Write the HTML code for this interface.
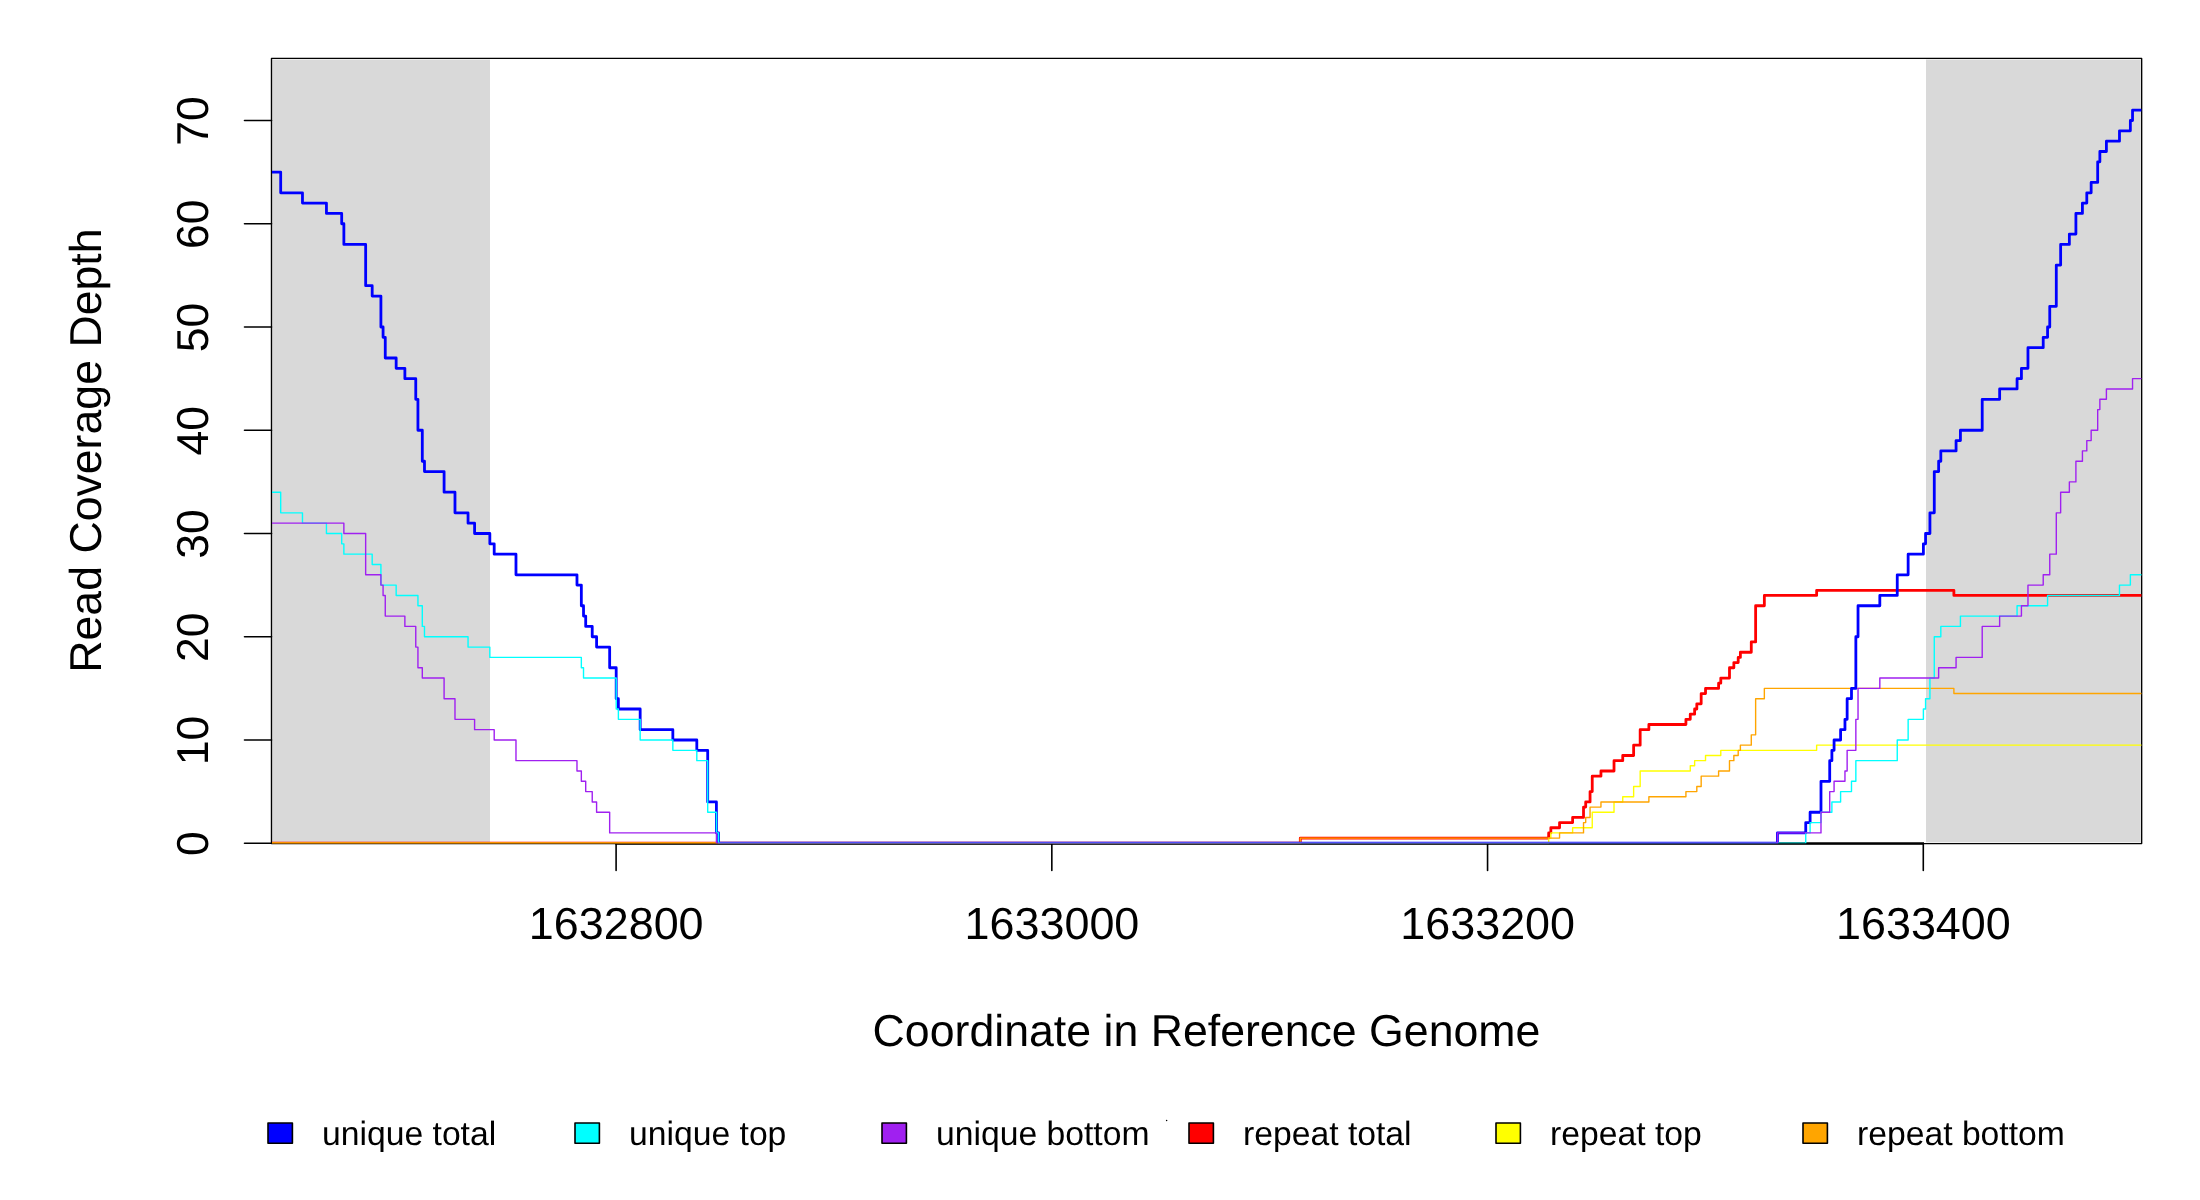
<!DOCTYPE html>
<html><head><meta charset="utf-8"><title>Read Coverage Depth</title>
<style>
html,body{margin:0;padding:0;background:#fff;}
body{width:2200px;height:1200px;overflow:hidden;font-family:"Liberation Sans",sans-serif;}
svg{display:block;will-change:transform;}
svg text{font-family:"Liberation Sans",sans-serif;fill:#000;text-rendering:geometricPrecision;}
</style></head><body>
<svg width="2200" height="1200" viewBox="0 0 2200 1200">
<rect x="0" y="0" width="2200" height="1200" fill="#ffffff"/>
<defs><clipPath id="plotclip"><rect x="272.00" y="58.40" width="1869.40" height="784.85"/></clipPath></defs>

<rect x="272.50" y="59.50" width="217.50" height="782.90" fill="#d9d9d9"/>
<rect x="1926.00" y="59.50" width="214.50" height="782.90" fill="#d9d9d9"/>
<rect x="271.50" y="58.40" width="1870.15" height="785.20" fill="none" stroke="#000" stroke-width="1.4" stroke-linejoin="round"/>
<line x1="244.5" x2="271.50" y1="843.30" y2="843.30" stroke="#000" stroke-width="1.6" stroke-linecap="round"/>
<text font-size="44.67" text-anchor="middle" transform="translate(208 843.65) rotate(-90)">0</text>
<line x1="244.5" x2="271.50" y1="740.05" y2="740.05" stroke="#000" stroke-width="1.6" stroke-linecap="round"/>
<text font-size="44.67" text-anchor="middle" transform="translate(208 740.40) rotate(-90)">10</text>
<line x1="244.5" x2="271.50" y1="636.80" y2="636.80" stroke="#000" stroke-width="1.6" stroke-linecap="round"/>
<text font-size="44.67" text-anchor="middle" transform="translate(208 637.15) rotate(-90)">20</text>
<line x1="244.5" x2="271.50" y1="533.55" y2="533.55" stroke="#000" stroke-width="1.6" stroke-linecap="round"/>
<text font-size="44.67" text-anchor="middle" transform="translate(208 533.90) rotate(-90)">30</text>
<line x1="244.5" x2="271.50" y1="430.30" y2="430.30" stroke="#000" stroke-width="1.6" stroke-linecap="round"/>
<text font-size="44.67" text-anchor="middle" transform="translate(208 430.65) rotate(-90)">40</text>
<line x1="244.5" x2="271.50" y1="327.05" y2="327.05" stroke="#000" stroke-width="1.6" stroke-linecap="round"/>
<text font-size="44.67" text-anchor="middle" transform="translate(208 327.40) rotate(-90)">50</text>
<line x1="244.5" x2="271.50" y1="223.80" y2="223.80" stroke="#000" stroke-width="1.6" stroke-linecap="round"/>
<text font-size="44.67" text-anchor="middle" transform="translate(208 224.15) rotate(-90)">60</text>
<line x1="244.5" x2="271.50" y1="120.55" y2="120.55" stroke="#000" stroke-width="1.6" stroke-linecap="round"/>
<text font-size="44.67" text-anchor="middle" transform="translate(208 120.90) rotate(-90)">70</text>
<line x1="616.10" x2="616.10" y1="843.60" y2="870.5" stroke="#000" stroke-width="1.6" stroke-linecap="round"/>
<text font-size="44.9" text-anchor="middle" x="616.20" y="939">1632800</text>
<line x1="1051.83" x2="1051.83" y1="843.60" y2="870.5" stroke="#000" stroke-width="1.6" stroke-linecap="round"/>
<text font-size="44.9" text-anchor="middle" x="1051.93" y="939">1633000</text>
<line x1="1487.56" x2="1487.56" y1="843.60" y2="870.5" stroke="#000" stroke-width="1.6" stroke-linecap="round"/>
<text font-size="44.9" text-anchor="middle" x="1487.66" y="939">1633200</text>
<line x1="1923.29" x2="1923.29" y1="843.60" y2="870.5" stroke="#000" stroke-width="1.6" stroke-linecap="round"/>
<text font-size="44.9" text-anchor="middle" x="1923.39" y="939">1633400</text>
<line x1="615.40" x2="1923.99" y1="843.4" y2="843.4" stroke="#000" stroke-width="2.5" stroke-linecap="butt"/>
<g clip-path="url(#plotclip)" fill="none" stroke-linejoin="round" stroke-linecap="round">
<path d="M256.72 843.25H1300.30V838.09H1548.66V832.92H1550.84V827.76H1559.56V822.60H1572.63V817.44H1583.52V807.11H1585.70V801.95H1590.06V791.62H1592.24V776.14H1600.95V770.98H1614.02V760.65H1622.74V755.49H1633.63V745.16H1640.17V729.67H1648.88V724.51H1685.92V719.35H1690.27V714.19H1694.63V709.02H1696.81V703.86H1701.17V693.54H1705.53V688.38H1718.60V683.21H1720.78V678.05H1729.49V667.73H1733.85V662.56H1738.20V657.40H1740.38V652.24H1751.28V641.91H1755.63V605.77H1764.35V595.45H1816.64V590.29H1953.89V595.45H2163.04" stroke="#ff0000" stroke-width="2.8"/>
<path d="M256.72 843.25H1548.66V838.09H1550.84V832.92H1572.63V827.76H1592.24V812.27H1614.02V801.95H1622.74V796.79H1633.63V786.46H1640.17V770.98H1690.27V765.81H1694.63V760.65H1705.53V755.49H1720.78V750.33H1816.64V745.16H2163.04" stroke="#ffff00" stroke-width="1.4"/>
<path d="M256.72 843.25H1300.30V838.09H1559.56V832.92H1583.52V822.60H1585.70V817.44H1590.06V807.11H1600.95V801.95H1648.88V796.79H1685.92V791.62H1696.81V786.46H1701.17V776.14H1718.60V770.98H1729.49V760.65H1733.85V755.49H1738.20V750.33H1740.38V745.16H1751.28V734.84H1755.63V698.70H1764.35V688.38H1953.89V693.54H2163.04" stroke="#ffa500" stroke-width="1.4"/>
<path d="M256.72 172.12H280.69V192.78H302.47V203.10H326.44V213.43H341.69V223.75H343.87V244.40H365.66V285.70H372.19V296.03H380.91V327.00H383.08V337.33H385.26V357.98H396.16V368.30H404.87V378.63H415.76V399.28H417.94V430.25H422.30V461.23H424.48V471.55H444.09V492.20H454.98V512.85H468.05V523.17H474.59V533.50H489.84V543.83H494.20V554.15H515.98V574.80H576.98V585.12H581.34V605.77H583.52V616.10H585.70V626.42H592.23V636.75H596.59V647.08H609.66V667.73H616.20V698.70H618.38V709.02H640.17V729.67H672.84V740.00H696.81V750.33H707.70V801.95H716.42V832.92H718.60V843.25H1777.42V832.92H1805.74V822.60H1810.10V812.27H1820.99V781.30H1829.71V760.65H1831.89V750.33H1834.07V740.00H1840.60V729.67H1844.96V719.35H1847.14V698.70H1851.49V688.38H1855.85V636.75H1858.03V605.77H1879.82V595.45H1897.25V574.80H1908.14V554.15H1923.39V543.83H1925.57V533.50H1929.93V512.85H1934.28V471.55H1938.64V461.23H1940.82V450.90H1956.07V440.58H1960.43V430.25H1982.21V399.28H1999.64V388.95H2017.07V378.63H2021.43V368.30H2027.97V347.65H2043.22V337.33H2047.57V327.00H2049.75V306.35H2056.29V265.05H2060.64V244.40H2069.36V234.08H2075.90V213.43H2082.43V203.10H2086.79V192.78H2091.15V182.45H2097.68V161.80H2099.86V151.48H2106.40V141.15H2119.47V130.83H2130.36V120.50H2132.54V110.18H2163.04" stroke="#0000ff" stroke-width="2.8"/>
<path d="M256.72 492.20H280.69V512.85H302.47V523.17H326.44V533.50H341.69V543.83H343.87V554.15H372.19V564.48H380.91V585.12H396.16V595.45H417.94V605.77H422.30V626.42H424.48V636.75H468.05V647.08H489.84V657.40H581.34V667.73H583.52V678.05H616.20V709.02H618.38V719.35H640.17V740.00H672.84V750.33H696.81V760.65H707.70V812.27H716.42V832.92H718.60V843.25H1805.74V832.92H1810.10V822.60H1820.99V812.27H1831.89V801.95H1840.60V791.62H1851.49V781.30H1855.85V760.65H1897.25V740.00H1908.14V719.35H1923.39V709.02H1925.57V698.70H1929.93V678.05H1934.28V636.75H1940.82V626.42H1960.43V616.10H2017.07V605.77H2047.57V595.45H2119.47V585.12H2130.36V574.80H2163.04" stroke="#00ffff" stroke-width="1.4"/>
<path d="M256.72 523.17H343.87V533.50H365.66V574.80H380.91V585.12H383.08V595.45H385.26V616.10H404.87V626.42H415.76V647.08H417.94V667.73H422.30V678.05H444.09V698.70H454.98V719.35H474.59V729.67H494.20V740.00H515.98V760.65H576.98V770.98H581.34V781.30H585.70V791.62H592.23V801.95H596.59V812.27H609.66V832.92H716.42V843.25H1777.42V832.92H1820.99V812.27H1829.71V791.62H1834.07V781.30H1844.96V770.98H1847.14V750.33H1855.85V719.35H1858.03V688.38H1879.82V678.05H1938.64V667.73H1956.07V657.40H1982.21V626.42H1999.64V616.10H2021.43V605.77H2027.97V585.12H2043.22V574.80H2049.75V554.15H2056.29V512.85H2060.64V492.20H2069.36V481.88H2075.90V461.23H2082.43V450.90H2086.79V440.58H2091.15V430.25H2097.68V409.60H2099.86V399.28H2106.40V388.95H2132.54V378.63H2163.04" stroke="#a020f0" stroke-width="1.4"/>
</g>
<text font-size="44.67" text-anchor="middle" x="1206.5" y="1045.6">Coordinate in Reference Genome</text>
<text font-size="44.67" text-anchor="middle" transform="translate(100.8 450.6) rotate(-90)">Read Coverage Depth</text>
<rect x="268.00" y="1123" width="24.4" height="20.3" fill="#0000ff" stroke="#000" stroke-width="1.6" stroke-linejoin="round"/>
<text font-size="33.7" x="322.00" y="1144.6">unique total</text>
<rect x="575.00" y="1123" width="24.4" height="20.3" fill="#00ffff" stroke="#000" stroke-width="1.6" stroke-linejoin="round"/>
<text font-size="33.7" x="629.00" y="1144.6">unique top</text>
<rect x="882.00" y="1123" width="24.4" height="20.3" fill="#a020f0" stroke="#000" stroke-width="1.6" stroke-linejoin="round"/>
<text font-size="33.7" x="936.00" y="1144.6">unique bottom</text>
<rect x="1189.00" y="1123" width="24.4" height="20.3" fill="#ff0000" stroke="#000" stroke-width="1.6" stroke-linejoin="round"/>
<text font-size="33.7" x="1243.00" y="1144.6">repeat total</text>
<rect x="1496.00" y="1123" width="24.4" height="20.3" fill="#ffff00" stroke="#000" stroke-width="1.6" stroke-linejoin="round"/>
<text font-size="33.7" x="1550.00" y="1144.6">repeat top</text>
<rect x="1803.00" y="1123" width="24.4" height="20.3" fill="#ffa500" stroke="#000" stroke-width="1.6" stroke-linejoin="round"/>
<text font-size="33.7" x="1857.00" y="1144.6">repeat bottom</text>
<circle cx="1166.6" cy="1120.4" r="0.75" fill="#000"/>
</svg></body></html>
